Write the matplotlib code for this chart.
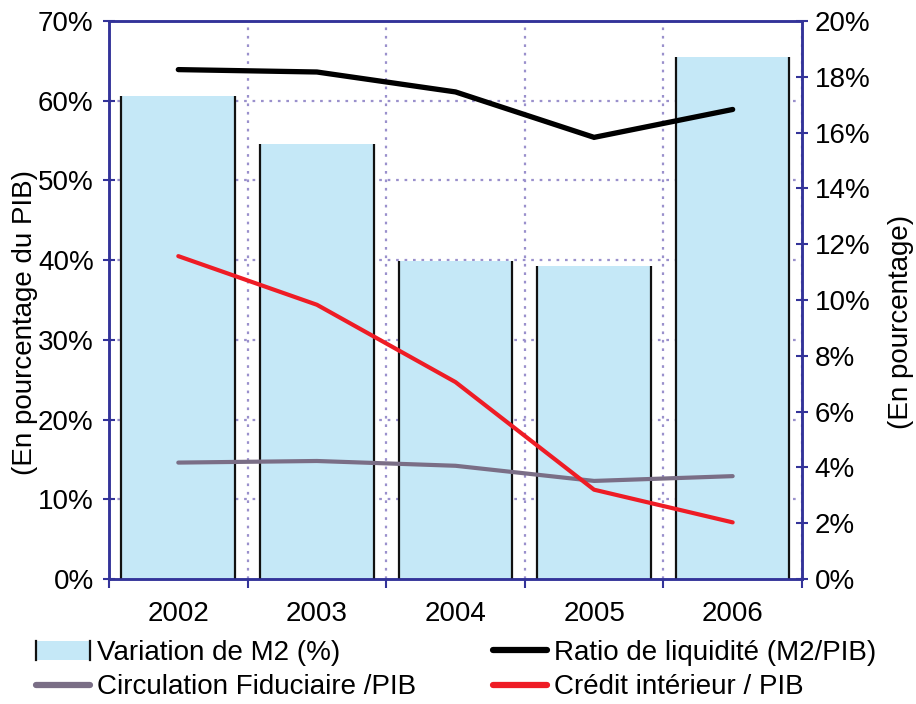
import numpy as np
import matplotlib
matplotlib.use("Agg")
import matplotlib.pyplot as plt
from matplotlib.patches import Rectangle, Patch
from matplotlib.lines import Line2D
from matplotlib.ticker import FixedLocator, MultipleLocator, FuncFormatter

plt.rcParams['font.family'] = ['Liberation Sans', 'DejaVu Sans']

years = ['2002', '2003', '2004', '2005', '2006']
# right axis (%)
variation_m2 = [17.3, 15.6, 11.4, 11.2, 18.7]
# left axis (% du PIB)
ratio_liquidite = [63.9, 63.6, 61.1, 55.4, 58.9]
credit_interieur = [40.5, 34.4, 24.7, 11.2, 7.1]
circulation_fid = [14.6, 14.8, 14.2, 12.3, 12.9]

bar_color = '#C5E8F7'
spine_color = '#333399'
grid_color = '#9A90CC'
fs = 20

fig = plt.figure(figsize=(9.16, 7.04), dpi=100)
ax_bar = fig.add_axes([0.119, 0.1776, 0.7565, 0.7926])
ax_line = ax_bar.twinx()

x = np.arange(len(years))

# bars (right scale), black sides only
bars = ax_bar.bar(x, variation_m2, width=0.82, color=bar_color,
                  edgecolor='none', zorder=2)
for b in bars:
    for xx in (b.get_x(), b.get_x() + b.get_width()):
        ax_bar.plot([xx, xx], [0, b.get_height()], color='#111111', lw=1.6,
                    zorder=3, solid_capstyle='butt')

ax_bar.set_xlim(-0.5, len(years) - 0.5)
ax_bar.set_ylim(0, 20)
ax_line.set_ylim(0, 70)

# lines (left scale)
l_ratio, = ax_line.plot(x, ratio_liquidite, color='black', lw=3.8,
                        solid_capstyle='round', solid_joinstyle='miter')
l_circ, = ax_line.plot(x, circulation_fid, color='#7A6E86', lw=3.0,
                       solid_capstyle='round')
l_cred, = ax_line.plot(x, credit_interieur, color='#EE1C25', lw=3.0,
                       solid_capstyle='round')

# axes layout: left scale on the line axis, right scale on the bar axis
ax_line.yaxis.tick_left()
ax_line.yaxis.set_label_position('left')
ax_bar.yaxis.tick_right()
ax_bar.yaxis.set_label_position('right')
ax_line.patch.set_visible(False)

pct = FuncFormatter(lambda v, p: '%d%%' % round(v))
ax_line.yaxis.set_major_locator(MultipleLocator(10))
ax_line.yaxis.set_major_formatter(pct)
ax_bar.yaxis.set_major_locator(MultipleLocator(2))
ax_bar.yaxis.set_major_formatter(pct)

# grid: horizontal lines at the left ticks, vertical at category boundaries
ax_bar.yaxis.set_minor_locator(FixedLocator(np.linspace(0, 20, 8)))
ax_bar.xaxis.set_major_locator(FixedLocator(np.arange(-0.5, len(years), 1.0)))
ax_bar.xaxis.set_major_formatter(FuncFormatter(lambda v, p: ''))
ax_bar.xaxis.set_minor_locator(FixedLocator(x))
ax_bar.xaxis.set_minor_formatter(FuncFormatter(lambda v, p: years[int(round(v))]))
ax_bar.set_axisbelow(True)
ax_bar.grid(which='minor', axis='y', color=grid_color, lw=1.6,
            linestyle=(0, (1.2, 2.6)), zorder=0)
ax_bar.grid(which='major', axis='x', color=grid_color, lw=1.6,
            linestyle=(0, (1.2, 2.6)), zorder=0)

ax_bar.tick_params(axis='y', which='major', direction='inout', length=8,
                   width=1.5, color=spine_color, labelsize=fs, pad=5)
ax_bar.tick_params(axis='y', which='minor', length=0)
ax_bar.tick_params(axis='x', which='major', direction='out', length=6.5,
                   width=1.5, color=spine_color)
ax_bar.tick_params(axis='x', which='minor', length=0, labelsize=fs, pad=16)
ax_line.tick_params(axis='y', direction='inout', length=8, width=1.5,
                    color=spine_color, labelsize=fs, pad=7)

for a in (ax_bar, ax_line):
    for s in a.spines.values():
        s.set_color(spine_color)
        s.set_linewidth(1.8)

ax_line.set_ylabel('(En pourcentage du PIB)', fontsize=fs)
ax_line.yaxis.set_label_coords(-0.1025, 0.46)
ax_bar.set_ylabel('(En pourcentage)', fontsize=fs, rotation=90)
ax_bar.yaxis.set_label_coords(1.124, 0.46)


class BarKeyHandler:
    def legend_artist(self, legend, orig_handle, fontsize, handlebox):
        x0, y0 = handlebox.xdescent, handlebox.ydescent
        w, h = handlebox.width, handlebox.height
        tr = handlebox.get_transform()
        rect = Rectangle((x0, y0), w, h, facecolor=bar_color,
                         edgecolor='none', transform=tr)
        handlebox.add_artist(rect)
        for xx in (x0, x0 + w):
            handlebox.add_artist(Line2D([xx, xx], [y0, y0 + h], color='#111111',
                                        lw=1.6, transform=tr))
        return rect


bar_key = Patch(facecolor=bar_color)
leg = fig.legend([bar_key, l_circ, l_ratio, l_cred],
                 ['Variation de M2 (%)', 'Circulation Fiduciaire /PIB',
                  'Ratio de liquidité (M2/PIB)', 'Crédit intérieur / PIB'],
                 handler_map={Patch: BarKeyHandler()},
                 ncol=2, loc='upper left', bbox_to_anchor=(36 / 916, 1 - 640 / 704),
                 frameon=False, fontsize=fs, handlelength=1.95, handletextpad=0.25,
                 columnspacing=2.75, labelspacing=0.3, borderpad=0, borderaxespad=0)
for h in leg.legend_handles[1:]:
    h.set_linewidth(4.5)

fig.savefig('out.png', dpi=100)
